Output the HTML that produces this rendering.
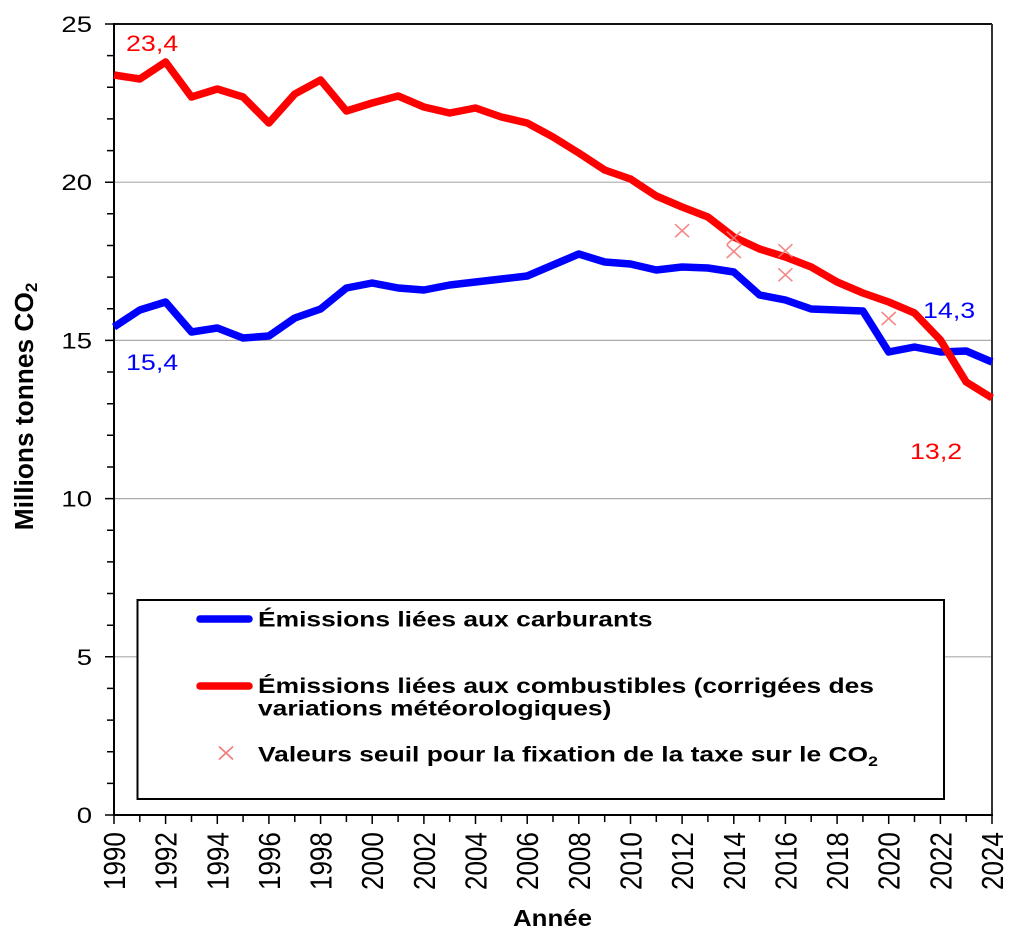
<!DOCTYPE html>
<html><head><meta charset="utf-8"><style>html,body{margin:0;padding:0;background:#fff;}svg{display:block}</style></head>
<body>
<svg width="1024" height="942" viewBox="0 0 1024 942" xmlns="http://www.w3.org/2000/svg" font-family="'Liberation Sans', Arial, sans-serif">
<rect x="0" y="0" width="1024" height="942" fill="#fff"/>
<!-- gridlines -->
<g stroke="#ababab" stroke-width="1.2">
<line x1="114" y1="182.2" x2="992" y2="182.2"/>
<line x1="114" y1="340.4" x2="992" y2="340.4"/>
<line x1="114" y1="498.6" x2="992" y2="498.6"/>
<line x1="114" y1="656.8" x2="992" y2="656.8"/>
</g>
<!-- frame -->
<line x1="114" y1="24" x2="992" y2="24" stroke="#111" stroke-width="2"/>
<line x1="992" y1="24" x2="992" y2="815" stroke="#333" stroke-width="2"/>
<line x1="114" y1="23" x2="114" y2="816" stroke="#000" stroke-width="2"/>
<line x1="113" y1="815" x2="993" y2="815" stroke="#000" stroke-width="2"/>
<!-- y ticks -->
<path stroke="#000" stroke-width="1.5" fill="none" d="M105 815H114M105 656.8H114M105 498.6H114M105 340.4H114M105 182.2H114M105 24H114
M107 783.4H114M107 751.7H114M107 720.1H114M107 688.4H114
M107 625.2H114M107 593.5H114M107 561.9H114M107 530.2H114
M107 467H114M107 435.3H114M107 403.7H114M107 372H114
M107 308.8H114M107 277.1H114M107 245.5H114M107 213.8H114
M107 150.6H114M107 118.9H114M107 87.3H114M107 55.6H114"/>
<!-- x ticks -->
<path stroke="#000" stroke-width="1.5" fill="none" d="M114 815V824M139.8 815V822M165.6 815V824M191.5 815V822M217.3 815V824M243.1 815V822M268.9 815V824M294.8 815V822M320.6 815V824M346.4 815V822M372.2 815V824M398.1 815V822M423.9 815V824M449.7 815V822M475.5 815V824M501.4 815V822M527.2 815V824M553 815V822M578.8 815V824M604.7 815V822M630.5 815V824M656.3 815V822M682.1 815V824M707.9 815V822M733.8 815V824M759.6 815V822M785.4 815V824M811.2 815V822M837.1 815V824M862.9 815V822M888.7 815V824M914.5 815V822M940.4 815V824M966.2 815V822M992 815V824"/>
<!-- y tick labels -->
<g font-size="22" fill="#000" text-anchor="end">
<text transform="translate(92,823) scale(1.25,1)">0</text>
<text transform="translate(92,664.8) scale(1.25,1)">5</text>
<text transform="translate(92,506.6) scale(1.25,1)">10</text>
<text transform="translate(92,348.4) scale(1.25,1)">15</text>
<text transform="translate(92,190.2) scale(1.25,1)">20</text>
<text transform="translate(92,32) scale(1.25,1)">25</text>
</g>
<!-- x tick labels -->
<g font-size="26" fill="#000">
<text transform="translate(114,890) scale(1.18,1) translate(9.3,0) rotate(-90)">1990</text>
<text transform="translate(165.6,890) scale(1.18,1) translate(9.3,0) rotate(-90)">1992</text>
<text transform="translate(217.3,890) scale(1.18,1) translate(9.3,0) rotate(-90)">1994</text>
<text transform="translate(268.9,890) scale(1.18,1) translate(9.3,0) rotate(-90)">1996</text>
<text transform="translate(320.6,890) scale(1.18,1) translate(9.3,0) rotate(-90)">1998</text>
<text transform="translate(372.2,890) scale(1.18,1) translate(9.3,0) rotate(-90)">2000</text>
<text transform="translate(423.9,890) scale(1.18,1) translate(9.3,0) rotate(-90)">2002</text>
<text transform="translate(475.5,890) scale(1.18,1) translate(9.3,0) rotate(-90)">2004</text>
<text transform="translate(527.2,890) scale(1.18,1) translate(9.3,0) rotate(-90)">2006</text>
<text transform="translate(578.8,890) scale(1.18,1) translate(9.3,0) rotate(-90)">2008</text>
<text transform="translate(630.5,890) scale(1.18,1) translate(9.3,0) rotate(-90)">2010</text>
<text transform="translate(682.1,890) scale(1.18,1) translate(9.3,0) rotate(-90)">2012</text>
<text transform="translate(733.8,890) scale(1.18,1) translate(9.3,0) rotate(-90)">2014</text>
<text transform="translate(785.4,890) scale(1.18,1) translate(9.3,0) rotate(-90)">2016</text>
<text transform="translate(837.1,890) scale(1.18,1) translate(9.3,0) rotate(-90)">2018</text>
<text transform="translate(888.7,890) scale(1.18,1) translate(9.3,0) rotate(-90)">2020</text>
<text transform="translate(940.4,890) scale(1.18,1) translate(9.3,0) rotate(-90)">2022</text>
<text transform="translate(992,890) scale(1.18,1) translate(9.3,0) rotate(-90)">2024</text>
</g>
<!-- axis titles -->
<text transform="translate(33,406.5) rotate(-90)" font-size="26.3" font-weight="bold" text-anchor="middle" fill="#000">Millions tonnes CO<tspan font-size="17" dy="4">2</tspan></text>
<text transform="translate(552.5,926) scale(1.124,1)" font-size="23" font-weight="bold" text-anchor="middle" fill="#000">Année</text>
<!-- legend box -->
<rect x="137.5" y="600" width="806.5" height="199" fill="#fff" stroke="#000" stroke-width="2"/>
<line x1="200" y1="619" x2="249" y2="619" stroke="#0000ff" stroke-width="7.5" stroke-linecap="round"/>
<line x1="200" y1="686" x2="249" y2="686" stroke="#ff0000" stroke-width="7.5" stroke-linecap="round"/>
<path d="M219 746.5L233 759.5M233 746.5L219 759.5" stroke="#f47a7a" stroke-width="1.6" fill="none"/>
<g font-size="21" font-weight="bold" fill="#000">
<text transform="translate(258,626.5) scale(1.257,1)">Émissions liées aux carburants</text>
<text transform="translate(258,693) scale(1.257,1)">Émissions liées aux combustibles (corrigées des</text>
<text transform="translate(258,715.5) scale(1.257,1)">variations météorologiques)</text>
<text transform="translate(258,761.5) scale(1.257,1)">Valeurs seuil pour la fixation de la taxe sur le CO<tspan font-size="14" dy="4.5">2</tspan></text>
</g>
<!-- series -->
<polyline fill="none" stroke="#0000ff" stroke-width="7.5" stroke-linejoin="round" points="114,327 139.8,310 165.6,302 191.5,332 217.3,328 243.1,338 268.9,336 294.8,318 320.6,309 346.4,288 372.2,283 398.1,288 423.9,290 449.7,285 475.5,282 501.4,279 527.2,276 553,265 578.8,254 604.7,262 630.5,264 656.3,270 682.1,267 707.9,268 733.8,272 759.6,295 785.4,300 811.2,309 837.1,310 862.9,311 888.7,352 914.5,347 940.4,352 966.2,351 992,362"/>
<polyline fill="none" stroke="#ff0000" stroke-width="7.5" stroke-linejoin="round" points="114,75 139.8,79 165.6,62 191.5,97 217.3,89 243.1,97 268.9,123 294.8,94 320.6,80 346.4,111 372.2,103 398.1,96 423.9,107 449.7,113 475.5,108 501.4,117 527.2,123 553,137 578.8,153 604.7,170 630.5,179 656.3,196 682.1,207 707.9,217 733.8,237 759.6,249 785.4,257 811.2,267 837.1,282 862.9,293 888.7,302 914.5,313 940.4,340 966.2,382 992,398"/>
<!-- threshold markers -->
<g stroke="#f47a7a" stroke-width="1.6" fill="none" opacity="0.9">
<path d="M675.1 224.2L689.1 237.2M689.1 224.2L675.1 237.2"/>
<path d="M726.8 231.5L740.8 244.5M740.8 231.5L726.8 244.5"/>
<path d="M726.8 245L740.8 258M740.8 245L726.8 258"/>
<path d="M778.4 244.2L792.4 257.2M792.4 244.2L778.4 257.2"/>
<path d="M778.4 268.3L792.4 281.3M792.4 268.3L778.4 281.3"/>
<path d="M881.7 312L895.7 325M895.7 312L881.7 325"/>
</g>
<!-- data labels -->
<g font-size="22">
<text transform="translate(126,51) scale(1.22,1)" fill="#ff0000">23,4</text>
<text transform="translate(126,370) scale(1.22,1)" fill="#0000ff">15,4</text>
<text transform="translate(923,318) scale(1.22,1)" fill="#0000ff">14,3</text>
<text transform="translate(910,459) scale(1.22,1)" fill="#ff0000">13,2</text>
</g>
</svg>
</body></html>
